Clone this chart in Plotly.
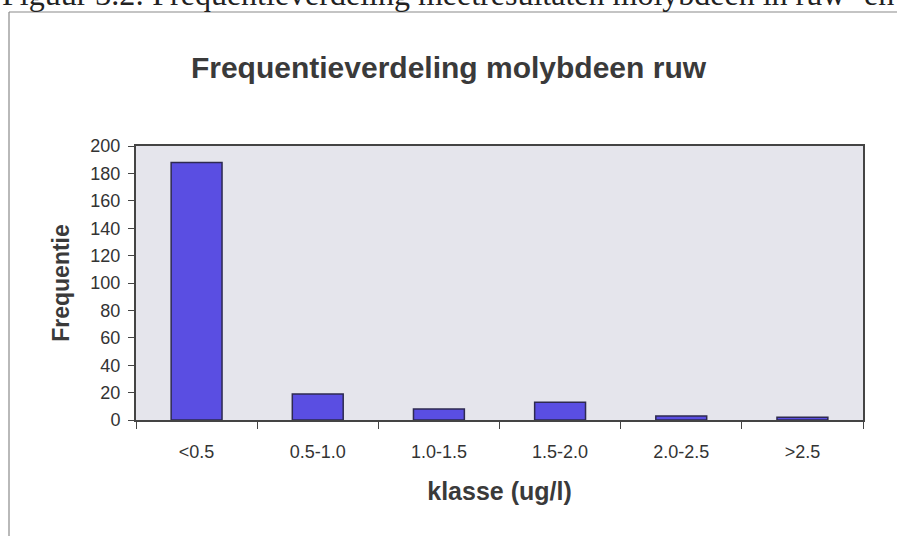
import plotly.graph_objects as go

categories = ["<0.5", "0.5-1.0", "1.0-1.5", "1.5-2.0", "2.0-2.5", ">2.5"]
frequentie = [188, 19, 8, 13, 3, 2]
y_ticks = list(range(0, 201, 20))

W, H = 897, 536
L, R, T, B = 136, 34, 146, 116
pw, ph = W - L - R, H - T - B

def px_x(x):
    return (x - L) / pw

def px_y(y):
    return (H - B - y) / ph

fig = go.Figure()
fig.add_trace(go.Bar(
    x=categories, y=frequentie, width=0.42,
    marker=dict(color="#5a4ee2", line=dict(color="#2e2a50", width=1.5)),
))

fig.update_layout(
    width=W, height=H,
    margin=dict(l=L, r=R, t=T, b=B),
    paper_bgcolor="white",
    plot_bgcolor="#e5e5ec",
    showlegend=False,
    font=dict(family="Liberation Sans, Arial, sans-serif", color="#333333", size=18),
    title=dict(text="<b>Frequentieverdeling molybdeen ruw</b>", x=0.5, xanchor="center",
               y=1 - 67 / H, yanchor="middle",
               font=dict(size=30, color="#3a3a3a")),
)
fig.update_xaxes(
    type="category", tickson="boundaries", ticks="outside", ticklen=7,
    tickcolor="#444", showline=True, linecolor="#444", linewidth=2, mirror=True,
    showgrid=False, tickfont=dict(size=18), ticklabelstandoff=14,
    title=dict(text="<b>klasse (ug/l)</b>", font=dict(size=25, color="#3a3a3a"), standoff=22),
)
fig.update_yaxes(
    range=[0, 200], tickvals=y_ticks, ticks="outside", ticklen=6,
    tickcolor="#444", showline=True, linecolor="#444", linewidth=2, mirror=True,
    showgrid=False, zeroline=False, tickfont=dict(size=18), ticklabelstandoff=4,
    title=dict(text="<b>Frequentie</b>", font=dict(size=23, color="#3a3a3a"), standoff=14),
)

# outer frame (left and top edges; right/bottom lie beyond the view)
fig.add_shape(type="line", xref="paper", yref="paper",
              x0=px_x(9), x1=px_x(W + 50), y0=px_y(12), y1=px_y(12),
              line=dict(color="#8a8a8a", width=1.2))
fig.add_shape(type="line", xref="paper", yref="paper",
              x0=px_x(9), x1=px_x(9), y0=px_y(12), y1=px_y(H + 50),
              line=dict(color="#8a8a8a", width=1.2))

# document caption, cut off at the top
fig.add_annotation(text="Figuur 3.2: Frequentieverdeling meetresultaten molybdeen in ruw- en",
                   xref="paper", yref="paper", x=px_x(0), y=px_y(14),
                   xanchor="left", yanchor="bottom", showarrow=False,
                   font=dict(family="Liberation Serif, Times New Roman, serif", size=32, color="#222"))

fig.write_html("out.html")
